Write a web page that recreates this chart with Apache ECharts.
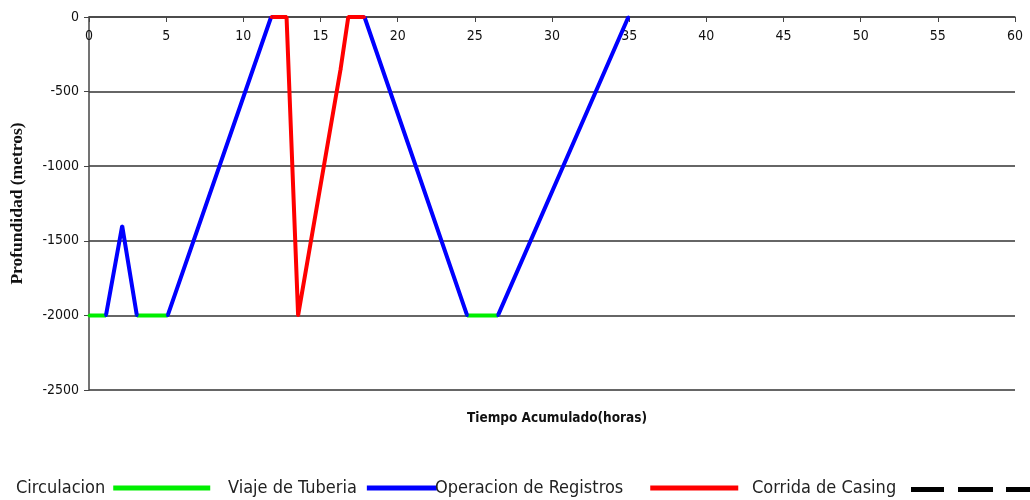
<!DOCTYPE html>
<html>
<head>
<meta charset="utf-8">
<script src="https://cdn.jsdelivr.net/npm/echarts@6/dist/echarts.min.js"></script>
<style>html,body{margin:0;padding:0;background:#fff}#c{width:1030px;height:500px}</style>
</head>
<body>
<div id="c"></div>
<script>
// Data (hours, depth in metres); each inner array is one continuous segment
var circulacion = [
  [[0, -2000], [1.1, -2000]],
  [[3.1, -2000], [5.1, -2000]],
  [[24.5, -2000], [26.5, -2000]]
];
var viajeTuberia = [
  [[1.1, -2000], [2.15, -1400], [3.1, -2000]],
  [[5.1, -2000], [11.8, 0]],
  [[17.85, 0], [24.5, -2000]],
  [[26.5, -2000], [34.95, 0]]
];
var operacionRegistros = [
  [[11.8, 0], [12.8, 0], [13.55, -2000], [16.3, -350], [16.8, 0], [17.85, 0]]
];
var corridaCasing = [];
var seriesNames = ['Circulacion', 'Viaje de Tuberia', 'Operacion de Registros', 'Corrida de Casing'];
var xTicks = {min: 0, max: 60, step: 5};
var yTicks = {min: -2500, max: 0, step: 500};

function flat(segs) {
  var out = [];
  segs.forEach(function (s, i) {
    if (i > 0) out.push('-');
    s.forEach(function (p) { out.push(p); });
  });
  return out;
}

var narrow = "'Liberation Sans Narrow','DejaVu Sans Condensed',sans-serif";
var chart = echarts.init(document.getElementById('c'), null, {renderer: 'canvas'});

function lineSeries(name, color, segs, dashed) {
  return {
    name: name, type: 'line', data: flat(segs), connectNulls: false,
    symbol: 'circle', symbolSize: 3, showSymbol: true,
    lineStyle: {color: color, width: 4, type: dashed ? [12, 10] : 'solid'},
    itemStyle: {color: color},
    animation: false, silent: true
  };
}

function legendItem(name, left, iconW, padRight) {
  return {
    data: [{name: name}], left: left, top: 479, align: 'right', padding: 0,
    itemWidth: iconW, itemHeight: 5, icon: 'rect', selectedMode: false,
    textStyle: {fontFamily: narrow, fontSize: 18, color: '#222', padding: [0, padRight, 0, 0]}
  };
}

chart.setOption({
  backgroundColor: '#fff',
  animation: false,
  grid: {left: 89, top: 17, right: 15, bottom: 110, containLabel: false, outerBoundsMode: 'none'},
  title: {
    text: 'Tiempo Acumulado(horas)', left: 467, top: 411, padding: 0,
    textStyle: {fontFamily: narrow, fontSize: 13.5, fontWeight: 'bold', color: '#111'}
  },
  legend: [
    legendItem(seriesNames[0], 16, 97, 3),
    legendItem(seriesNames[1], 228, 70, 5),
    legendItem(seriesNames[2], 435, 88, 22),
    legendItem(seriesNames[3], 752, 0, 0)
  ],
  graphic: [
    {type: 'rect', shape: {x: 911, y: 487, width: 33, height: 5}, style: {fill: '#000'}},
    {type: 'rect', shape: {x: 958, y: 487, width: 35, height: 5}, style: {fill: '#000'}},
    {type: 'rect', shape: {x: 1006, y: 487, width: 24, height: 5}, style: {fill: '#000'}}
  ],
  xAxis: {
    type: 'value', position: 'top', min: xTicks.min, max: xTicks.max, interval: xTicks.step,
    axisLine: {show: true, onZero: false, lineStyle: {color: '#444', width: 1.5}},
    axisTick: {show: true, inside: true, length: 5, lineStyle: {color: '#444'}},
    axisLabel: {inside: true, margin: 12, fontFamily: narrow, fontSize: 14, color: '#111'},
    splitLine: {show: false}
  },
  yAxis: {
    type: 'value', min: yTicks.min, max: yTicks.max, interval: yTicks.step,
    name: 'Profundidad (metros)', nameLocation: 'middle', nameGap: 63, nameRotate: 90,
    nameTextStyle: {fontFamily: "'Liberation Serif',serif", fontSize: 17.5, fontWeight: 'bold', color: '#111'},
    axisLine: {show: true, onZero: false, lineStyle: {color: '#444', width: 1.5}},
    axisTick: {show: true, length: 5, lineStyle: {color: '#444'}},
    axisLabel: {margin: 10, fontFamily: narrow, fontSize: 14, color: '#111', formatter: function (v) { return String(v); }},
    splitLine: {show: true, lineStyle: {color: '#333', width: 1.5}}
  },
  series: [
    lineSeries(seriesNames[0], '#00ee00', circulacion),
    lineSeries(seriesNames[1], '#0000ff', viajeTuberia),
    lineSeries(seriesNames[2], '#ff0000', operacionRegistros),
    lineSeries(seriesNames[3], '#000000', corridaCasing, true)
  ]
});
</script>
</body>
</html>
